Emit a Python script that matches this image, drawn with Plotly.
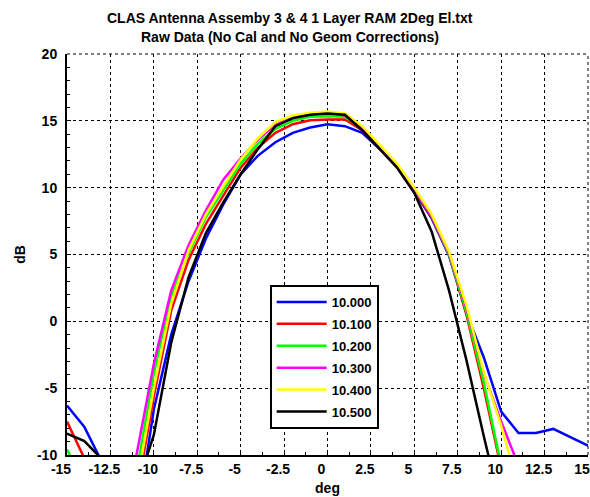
import plotly.graph_objects as go

deg = list(range(-15, 16))

# dB values per frequency (GHz), one value per degree from -15 to 15
db_10000 = [-6.3, -7.9, -10.5, -14.0, -15.0, -6.6, -1.0, 3.0, 6.2, 8.75, 11.0, 12.4, 13.4, 14.1, 14.5, 14.75,
            14.6, 14.1, 12.9, 11.6, 9.7, 7.7, 4.9, 0.6, -2.7, -6.75, -8.35, -8.35, -8.05, -8.68, -9.3]
db_10100 = [-7.5, -10.2, -13.0, -15.0, -13.0, -5.6, 0.8, 4.6, 7.3, 9.4, 11.5, 13.0, 14.1, 14.75, 15.05, 15.1,
            15.1, 14.3, 13.0, 11.6, 9.8, 7.8, 5.0, 0.5, -5.0, -11.0, -15.0, -16.0, -16.0, -16.0, -16.0]
db_10200 = [-9.6, -12.0, -14.0, -15.0, -11.3, -3.9, 1.9, 5.1, 7.8, 9.8, 11.8, 13.3, 14.4, 15.0, 15.3, 15.35,
            15.3, 14.5, 13.1, 11.7, 9.9, 7.9, 5.0, 0.7, -4.6, -10.8, -15.0, -16.0, -16.0, -16.0, -16.0]
db_10300 = [-11.0, -13.0, -15.0, -14.0, -10.0, -3.2, 2.3, 5.7, 8.3, 10.6, 12.2, 13.6, 14.7, 15.3, 15.55, 15.6,
            15.4, 14.5, 13.1, 11.7, 9.9, 7.9, 5.1, 1.0, -3.9, -7.5, -10.8, -14.0, -16.0, -16.0, -16.0]
db_10400 = [-11.0, -13.0, -15.0, -15.0, -12.3, -5.0, 1.3, 5.3, 8.0, 10.1, 12.1, 13.7, 14.9, 15.4, 15.6, 15.7,
            15.55, 14.6, 13.2, 11.8, 10.0, 8.0, 5.2, 1.2, -3.8, -7.8, -12.5, -15.0, -16.0, -16.0, -16.0]
db_10500 = [-8.4, -8.96, -10.3, -13.0, -12.5, -8.5, -1.6, 3.3, 6.6, 8.9, 11.0, 12.9, 14.6, 15.2, 15.45, 15.55,
            15.45, 14.3, 12.9, 11.5, 9.6, 6.7, 2.3, -2.9, -8.6, -14.0, -16.0, -16.0, -16.0, -16.0, -16.0]

series = [
    ('10.000', db_10000, '#0000FF'),
    ('10.100', db_10100, '#FF0000'),
    ('10.200', db_10200, '#00FF00'),
    ('10.300', db_10300, '#FF00FF'),
    ('10.400', db_10400, '#FFFF00'),
    ('10.500', db_10500, '#000000'),
]

x_ticks = [-15, -12.5, -10, -7.5, -5, -2.5, 0, 2.5, 5, 7.5, 10, 12.5, 15]
y_ticks = [-10, -5, 0, 5, 10, 15, 20]

title_lines = ['CLAS Antenna Assemby 3 & 4 1 Layer RAM 2Deg El.txt',
               'Raw Data (No Cal and No Geom Corrections)']

FONT = 'Arial, Liberation Sans, sans-serif'
bold = lambda s: dict(family=FONT, size=s, color='black', weight='bold')

fig = go.Figure()
for name, vals, color in series:
    fig.add_trace(go.Scatter(
        x=deg, y=vals, mode='lines', name=name, legendgroup=name,
        line=dict(color=color, width=2.5)
    ))

fig.update_layout(
    width=590, height=497,
    margin=dict(l=67, r=2, t=54, b=42),
    plot_bgcolor='white', paper_bgcolor='white',
    font=bold(14),
    legend=dict(
        x=0.389, y=0.424, xanchor='left', yanchor='top',
        bgcolor='white', bordercolor='black', borderwidth=2,
        font=bold(13), itemwidth=50, tracegroupgap=2,
        traceorder='grouped'
    ),
    showlegend=True
)

for txt, ypos in zip(title_lines, [1.091, 1.0435]):
    fig.add_annotation(text=txt, xref='paper', yref='paper', x=0.428, y=ypos,
                       xanchor='center', yanchor='middle', showarrow=False, font=bold(14))

fig.update_xaxes(
    range=[-15, 15], tickvals=x_ticks, ticktext=[f'{v:g}' for v in x_ticks],
    showgrid=True, gridcolor='black', griddash='dot', gridwidth=1,
    showline=True, linecolor='black', linewidth=2,
    ticks='inside', ticklen=4, tickcolor='black',
    minor=dict(dtick=1.25, tick0=0, ticks='inside', ticklen=3, tickcolor='black', showgrid=False),
    zeroline=False, ticklabelshift=-6, ticklabeloverflow='allow', automargin=False,
    title=dict(text='deg', standoff=7, font=bold(14))
)
fig.update_yaxes(
    range=[-10, 20], tickvals=y_ticks, ticktext=[f'{v:g}' for v in y_ticks],
    showgrid=True, gridcolor='black', griddash='dot', gridwidth=1,
    showline=True, linecolor='black', linewidth=2,
    ticks='inside', ticklen=4, tickcolor='black',
    minor=dict(dtick=1, tick0=0, ticks='inside', ticklen=3, tickcolor='black', showgrid=False),
    zeroline=False, ticklabelstandoff=5, automargin=False,
    title=dict(text='dB', standoff=8, font=bold(14))
)

# dotted frame on top and right, like the grid
fig.add_shape(type='line', xref='paper', yref='paper', x0=0, x1=1, y0=1, y1=1,
              line=dict(color='black', width=1, dash='dot'))
fig.add_shape(type='line', xref='paper', yref='paper', x0=1, x1=1, y0=0, y1=1,
              line=dict(color='black', width=1, dash='dot'))

# drop the default 8px page margin so the figure fills the window exactly
fig.write_html('out.html', config={'displayModeBar': False},
               post_script="document.body.style.margin='0';")
